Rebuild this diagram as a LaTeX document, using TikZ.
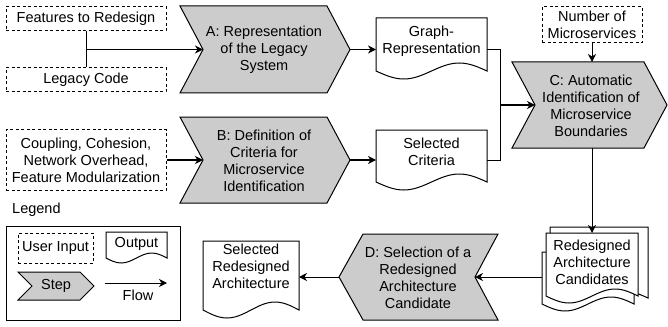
\documentclass[tikz,border=0pt]{standalone}
\usepackage{fontspec}
\setmainfont{Liberation Sans}
\usetikzlibrary{arrows.meta}
\definecolor{stepgray}{RGB}{204,204,204}
\begin{document}
\begin{tikzpicture}[x=1pt,y=-1pt,
  txt/.style={align=center,font=\fontsize{14.5}{17}\selectfont,inner sep=0pt},
  inbox/.style={draw,dash pattern=on 3pt off 2.5pt,line width=1pt,inner sep=0pt},
  stepshape/.style={draw,fill=stepgray,line width=1pt,line join=miter},
  docshape/.style={draw,fill=white,line width=1pt},
  link/.style={line width=1pt},
  flow/.style={line width=1pt,-{Stealth[length=8pt,width=8pt,inset=2.5pt]}},
  flowthick/.style={line width=1.6pt,-{Stealth[length=8pt,width=8pt,inset=2.5pt]}}]
\useasboundingbox (0,0) rectangle (668,326);

% ---------- inputs ----------
\node[inbox,txt,minimum width=160pt,minimum height=24pt] (feat) at (86,19) {Features to Redesign};
\node[inbox,txt,minimum width=160pt,minimum height=24pt] (legacy) at (86,80) {Legacy Code};
\node[inbox,txt,minimum width=160pt,minimum height=61pt] (crit) at (86,160) {Coupling, Cohesion,\\Network Overhead,\\Feature Modularization};
\node[inbox,txt,minimum width=100pt,minimum height=36pt] (nms) at (592,25) {Number of\\Microservices};

% ---------- step A ----------
\draw[stepshape] (180,6) -- (327,6) -- (350,49.5) -- (327,93) -- (180,93) -- (203,49.5) -- cycle;
\coordinate (Ain) at (203,49.5);
\coordinate (Aout) at (350,49.5);
\node[txt] (A) at (264,50) {A: Representation\\of the Legacy\\System};

% ---------- step B ----------
\draw[stepshape] (180,117) -- (327,117) -- (350,160) -- (327,203) -- (180,203) -- (203,160) -- cycle;
\coordinate (Bin) at (203,160);
\coordinate (Bout) at (350,160);
\node[txt] (B) at (264,161) {B: Definition of\\Criteria for\\Microservice\\Identification};

% ---------- step C ----------
\draw[stepshape] (512,62) -- (644,62) -- (667,105) -- (644,148) -- (512,148) -- (535,105) -- cycle;
\coordinate (Cin) at (535,105);
\coordinate (Ctop) at (592,62);
\coordinate (Cbot) at (592,148);
\node[txt] (C) at (591,106) {C: Automatic\\Identification of\\Microservice\\Boundaries};

% ---------- step D ----------
\draw[stepshape] (363,234) -- (498,234) -- (475,277) -- (498,320) -- (363,320) -- (339,277) -- cycle;
\coordinate (Din) at (475,277);
\coordinate (Dout) at (339,277);
\node[txt] (D) at (418,278) {D: Selection of a\\Redesigned\\Architecture\\Candidate};

% ---------- outputs ----------
\draw[docshape] (376,18) -- (487,18) -- (487,71) sin (459.25,63) cos (431.5,71) sin (403.75,79) cos (376,71) -- cycle;
\coordinate (grin) at (376,49.5);
\coordinate (grout) at (487,49.5);
\node[txt] (gr) at (431.5,41.5) {Graph-\\Representation};

\draw[docshape] (376,130) -- (487,130) -- (487,182) sin (459.25,174) cos (431.5,182) sin (403.75,190) cos (376,182) -- cycle;
\coordinate (scin) at (376,160);
\coordinate (scout) at (487,160);
\node[txt] (sc) at (431.5,152) {Selected\\Criteria};

% multi document
\draw[docshape] (550,227) -- (648,227) -- (648,298) sin (623.5,291) cos (599,298) sin (574.5,305) cos (550,298) -- cycle;
\draw[docshape] (542,252) -- (634,252) -- (634,304) sin (611,297) cos (588,304) sin (565,311) cos (542,304) -- cycle;
\draw[docshape] (546,233) -- (638,233) -- (638,296) sin (615,289) cos (592,296) sin (569,303) cos (546,296) -- cycle;
\coordinate (mdtop) at (592,233);
\coordinate (mdout) at (542,277);
\node[txt] (md) at (592,262) {Redesigned\\Architecture\\Candidates};

\draw[docshape] (203,241) -- (299,241) -- (299,310) sin (275,302) cos (251,310) sin (227,318) cos (203,310) -- cycle;
\coordinate (srain) at (299,277);
\node[txt] (sra) at (251,266.5) {Selected\\Redesigned\\Architecture};

% ---------- connectors ----------
\coordinate (jA) at (86,49.5);
\draw[link] (feat) -- (legacy);
\draw[flowthick] (jA) -- (Ain);
\draw[flowthick] (crit.east) -- (Bin);
\draw[flowthick] (Aout) -- (grin);
\draw[flowthick] (Bout) -- (scin);
\coordinate (jC) at (500,105);
\draw[link] (grout) -| (jC);
\draw[link] (scout) -| (jC);
\draw[flowthick] (jC) -- (Cin);
\draw[flow] (nms) -- (Ctop);
\draw[flow] (Cbot) -- (mdtop);
\draw[flow] (mdout) -- (Din);
\draw[flow] (Dout) -- (srain);

% ---------- legend ----------
\node[txt,anchor=west] (legendlabel) at (12,210) {Legend};
\draw[line width=1pt] (6,226) rectangle (180,320);
\node[inbox,txt,minimum width=75pt,minimum height=30pt] (ui) at (55.5,248) {User Input};
\draw[docshape] (106,232) -- (167,232) -- (167,258) sin (151.75,253) cos (136.5,258) sin (121.25,263) cos (106,258) -- cycle;
\node[txt] (outlbl) at (136.5,244) {Output};
\draw[stepshape] (18,272) -- (80,272) -- (94,286) -- (80,300) -- (18,300) -- (32,286) -- cycle;
\node[txt] (steplbl) at (56,286) {Step};
\coordinate (flowa) at (105,283);
\coordinate (flowb) at (167,283);
\draw[flow] (flowa) -- (flowb);
\node[txt] (flowlbl) at (138,295) {Flow};
\end{tikzpicture}
\end{document}
